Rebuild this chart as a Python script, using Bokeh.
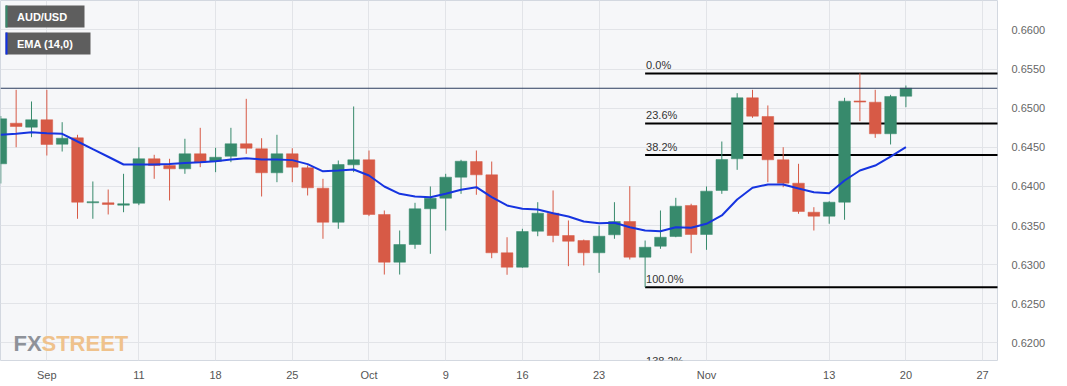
import pandas as pd
from bokeh.plotting import figure
from bokeh.models import (Range1d, FixedTicker, PrintfTickFormatter, Span, Label,
                          BoxAnnotation, PolyAnnotation, ColumnDataSource)
from bokeh.core.properties import value
from bokeh.embed import file_html
from bokeh.resources import INLINE

# ---------------- data ----------------
axis_dates = [d.strftime("%Y-%m-%d") for d in pd.bdate_range("2023-08-29", "2023-11-28")]
n_candles = 60
dates = axis_dates[:n_candles]

opens = [0.64289, 0.64808, 0.64757, 0.64852, 0.64540, 0.64621, 0.63790, 0.63790, 0.63760, 0.63785,
         0.64353, 0.64267, 0.64225, 0.64417, 0.64322, 0.64386, 0.64545, 0.64481, 0.64174, 0.64417,
         0.64238, 0.63977, 0.63542, 0.64276, 0.64340, 0.63641, 0.63031, 0.63257, 0.63714, 0.63849,
         0.64118, 0.64318, 0.64148, 0.63151, 0.62967, 0.63427, 0.63657, 0.63372, 0.63308, 0.63151,
         0.63381, 0.63551, 0.63095, 0.63235, 0.63359, 0.63756, 0.63385, 0.63948, 0.64353, 0.65133,
         0.64894, 0.64340, 0.64041, 0.63670, 0.63619, 0.63798, 0.65093, 0.65077, 0.64673, 0.65153]
highs = [0.64900, 0.65235, 0.65086, 0.65235, 0.64821, 0.64660, 0.64063, 0.63960, 0.64161, 0.64501,
         0.64404, 0.64353, 0.64609, 0.64749, 0.64494, 0.64749, 0.65120, 0.64616, 0.64660, 0.64488,
         0.64267, 0.64097, 0.64331, 0.65022, 0.64459, 0.63692, 0.63436, 0.63790, 0.63999, 0.64161,
         0.64340, 0.64459, 0.64318, 0.63350, 0.63458, 0.63798, 0.63948, 0.63564, 0.63320, 0.63500,
         0.63798, 0.64003, 0.63308, 0.63692, 0.63854, 0.63778, 0.63999, 0.64574, 0.65192, 0.65235,
         0.65035, 0.64501, 0.64289, 0.63734, 0.63810, 0.65133, 0.65445, 0.65235, 0.65171, 0.65290]
lows = [0.64037, 0.64501, 0.64629, 0.64395, 0.64446, 0.63586, 0.63586, 0.63641, 0.63670, 0.63760,
        0.64097, 0.63820, 0.64161, 0.64246, 0.64182, 0.64310, 0.64417, 0.63871, 0.64054, 0.64054,
        0.63884, 0.63330, 0.63458, 0.64182, 0.63620, 0.62873, 0.62873, 0.63202, 0.63138, 0.63436,
        0.63905, 0.63893, 0.63082, 0.62870, 0.62960, 0.63363, 0.63286, 0.62980, 0.62989, 0.62895,
        0.63330, 0.63065, 0.62711, 0.63202, 0.63350, 0.63146, 0.63189, 0.63905, 0.64212, 0.64877,
        0.64054, 0.63990, 0.63650, 0.63436, 0.63522, 0.63573, 0.64834, 0.64621, 0.64536, 0.65013]
closes = [0.64864, 0.64766, 0.64852, 0.64536, 0.64616, 0.63798, 0.63805, 0.63769, 0.63778, 0.64353,
          0.64267, 0.64225, 0.64417, 0.64310, 0.64373, 0.64545, 0.64488, 0.64174, 0.64417, 0.64246,
          0.63982, 0.63542, 0.64280, 0.64340, 0.63641, 0.63031, 0.63257, 0.63714, 0.63849, 0.64118,
          0.64322, 0.64148, 0.63151, 0.62967, 0.63423, 0.63657, 0.63372, 0.63299, 0.63151, 0.63363,
          0.63551, 0.63095, 0.63222, 0.63350, 0.63747, 0.63385, 0.63939, 0.64344, 0.65133, 0.64898,
          0.64340, 0.64041, 0.63679, 0.63619, 0.63798, 0.65090, 0.65078, 0.64673, 0.65150, 0.65255]
ema14 = [0.64660, 0.64673, 0.64693, 0.64680, 0.64673, 0.64574, 0.64476, 0.64379, 0.64280, 0.64280,
         0.64280, 0.64285, 0.64300, 0.64310, 0.64322, 0.64344, 0.64361, 0.64344, 0.64344, 0.64336,
         0.64285, 0.64193, 0.64203, 0.64216, 0.64139, 0.63999, 0.63905, 0.63871, 0.63862, 0.63905,
         0.63957, 0.63990, 0.63862, 0.63756, 0.63714, 0.63705, 0.63657, 0.63615, 0.63551, 0.63529,
         0.63535, 0.63478, 0.63436, 0.63427, 0.63478, 0.63471, 0.63522, 0.63628, 0.63833, 0.63982,
         0.64024, 0.64024, 0.63973, 0.63926, 0.63913, 0.64075, 0.64203, 0.64267, 0.64382, 0.64501]

last_price = 0.652550
fib_labels = ["0.0%", "23.6%", "38.2%", "100.0%", "138.2%"]
fib_levels = [0.65445, 0.64805, 0.64400, 0.62711, 0.61665]
fib_start_date = "2023-10-26"

tick_dates = ["2023-09-01", "2023-09-11", "2023-09-18", "2023-09-25", "2023-10-02", "2023-10-09",
              "2023-10-16", "2023-10-23", "2023-11-01", "2023-11-13", "2023-11-20", "2023-11-27"]
tick_labels = ["Sep", "11", "18", "25", "Oct", "9", "16", "23", "Nov", "13", "20", "27"]
y_ticks = [0.6200, 0.6250, 0.6300, 0.6350, 0.6400, 0.6450, 0.6500, 0.6550, 0.6600]

# ---------------- styling ----------------
UP = "#378a6c"
DOWN = "#d75a46"
FONT = "Liberation Sans"

idx = list(range(n_candles))
colors = [UP if c >= o else DOWN for o, c in zip(opens, closes)]
src = ColumnDataSource(dict(
    x=idx, open=opens, high=highs, low=lows, close=closes,
    top=[max(o, c) for o, c in zip(opens, closes)],
    bottom=[min(o, c) for o, c in zip(opens, closes)],
    color=colors, ema=ema14,
))

p = figure(width=1067, height=386, output_backend="svg", toolbar_location=None,
           x_range=Range1d(-0.02, 64.97), y_range=Range1d(0.617737, 0.663772),
           y_axis_location="right", min_border_left=0, min_border_top=0,
           min_border_right=70, min_border_bottom=26,
           background_fill_color="#f6f7f9", border_fill_color="white")
p.outline_line_color = "#d3d8e0"
p.outline_line_width = 1

# axes
tick_pos = [axis_dates.index(d) for d in tick_dates]
p.xaxis.ticker = FixedTicker(ticks=tick_pos)
p.xaxis.major_label_overrides = {t: l for t, l in zip(tick_pos, tick_labels)}
p.yaxis.ticker = FixedTicker(ticks=y_ticks)
p.yaxis.formatter = PrintfTickFormatter(format="%.4f")
for ax in (p.xaxis[0], p.yaxis[0]):
    ax.axis_line_color = None
    ax.major_tick_line_color = None
    ax.minor_tick_line_color = None
    ax.major_label_text_font = FONT
    ax.major_label_text_font_size = "11px"
p.xaxis.major_label_text_color = "#555555"
p.yaxis.major_label_text_color = "#666666"
p.xaxis.major_label_standoff = 2
p.yaxis.major_label_standoff = 8
p.grid.grid_line_color = "#e2e4e8"
p.grid.grid_line_width = 1

# watermark
p.add_layout(Label(x=13, y=343, x_units="canvas", y_units="canvas", text="FX",
                   text_font=FONT, text_font_style="bold",
                   text_font_size="22px", text_color="#8e9299", text_baseline="alphabetic"))
p.add_layout(Label(x=41, y=343, x_units="canvas", y_units="canvas", text="STREET",
                   text_font=FONT, text_font_style="bold",
                   text_font_size="22px", text_color="#efc28c", text_baseline="alphabetic"))

# fibonacci
fib_x = axis_dates.index(fib_start_date)
p.segment(x0=[fib_x] * len(fib_levels), x1=[len(axis_dates)] * len(fib_levels),
          y0=fib_levels, y1=fib_levels, line_color="black", line_width=2)
p.text(x=[fib_x] * len(fib_levels), y=fib_levels, text=fib_labels, x_offset=1, y_offset=-2,
       text_baseline="bottom", text_font=value(FONT), text_font_size="11px", text_color="#333333")

# price line
p.add_layout(Span(location=last_price, dimension="width", line_color="#2b3d5e", line_width=1))

# candles
p.segment(x0="x", x1="x", y0="low", y1="high", line_color="color", line_width=1, source=src)
p.vbar(x="x", width=0.76, top="top", bottom="bottom", fill_color="color", line_color="color",
       line_width=0.5, source=src)

# EMA
p.line(x="x", y="ema", line_color="#1634e0", line_width=2, source=src)

# legend boxes
for top, right, txt, strip in [(5, 84, "AUD/USD", UP), (32, 90, "EMA (14,0)", "#1030e6")]:
    p.add_layout(BoxAnnotation(left=5, right=right, top=top, bottom=top + 22,
                               left_units="canvas", right_units="canvas",
                               top_units="canvas", bottom_units="canvas",
                               fill_color="#5e5e5e", fill_alpha=1, line_color=None))
    p.add_layout(BoxAnnotation(left=5, right=7, top=top, bottom=top + 22,
                               left_units="canvas", right_units="canvas",
                               top_units="canvas", bottom_units="canvas",
                               fill_color=strip, fill_alpha=1, line_color=None))
    p.add_layout(Label(x=16.5, y=top + 11, x_units="canvas", y_units="canvas", text=txt,
                       text_baseline="middle", text_color="white", text_font=FONT,
                       text_font_size="11px", text_font_style="bold"))

# price tag
p.add_layout(PolyAnnotation(xs=[1000, 1005, 1005], ys=[last_price, last_price + 0.00095, last_price - 0.00095],
                            xs_units="canvas", ys_units="data", fill_color="#2b3d5e", fill_alpha=1,
                            line_color=None))
p.add_layout(Label(x=1004, y=last_price, x_units="canvas", y_units="data", text=f"{last_price:.6f}",
                   text_baseline="middle", text_color="white", text_font=FONT, text_font_size="11px",
                   text_font_style="bold", background_fill_color="#2b3d5e", padding=2))

open("out.html", "w").write(file_html(p, INLINE))
